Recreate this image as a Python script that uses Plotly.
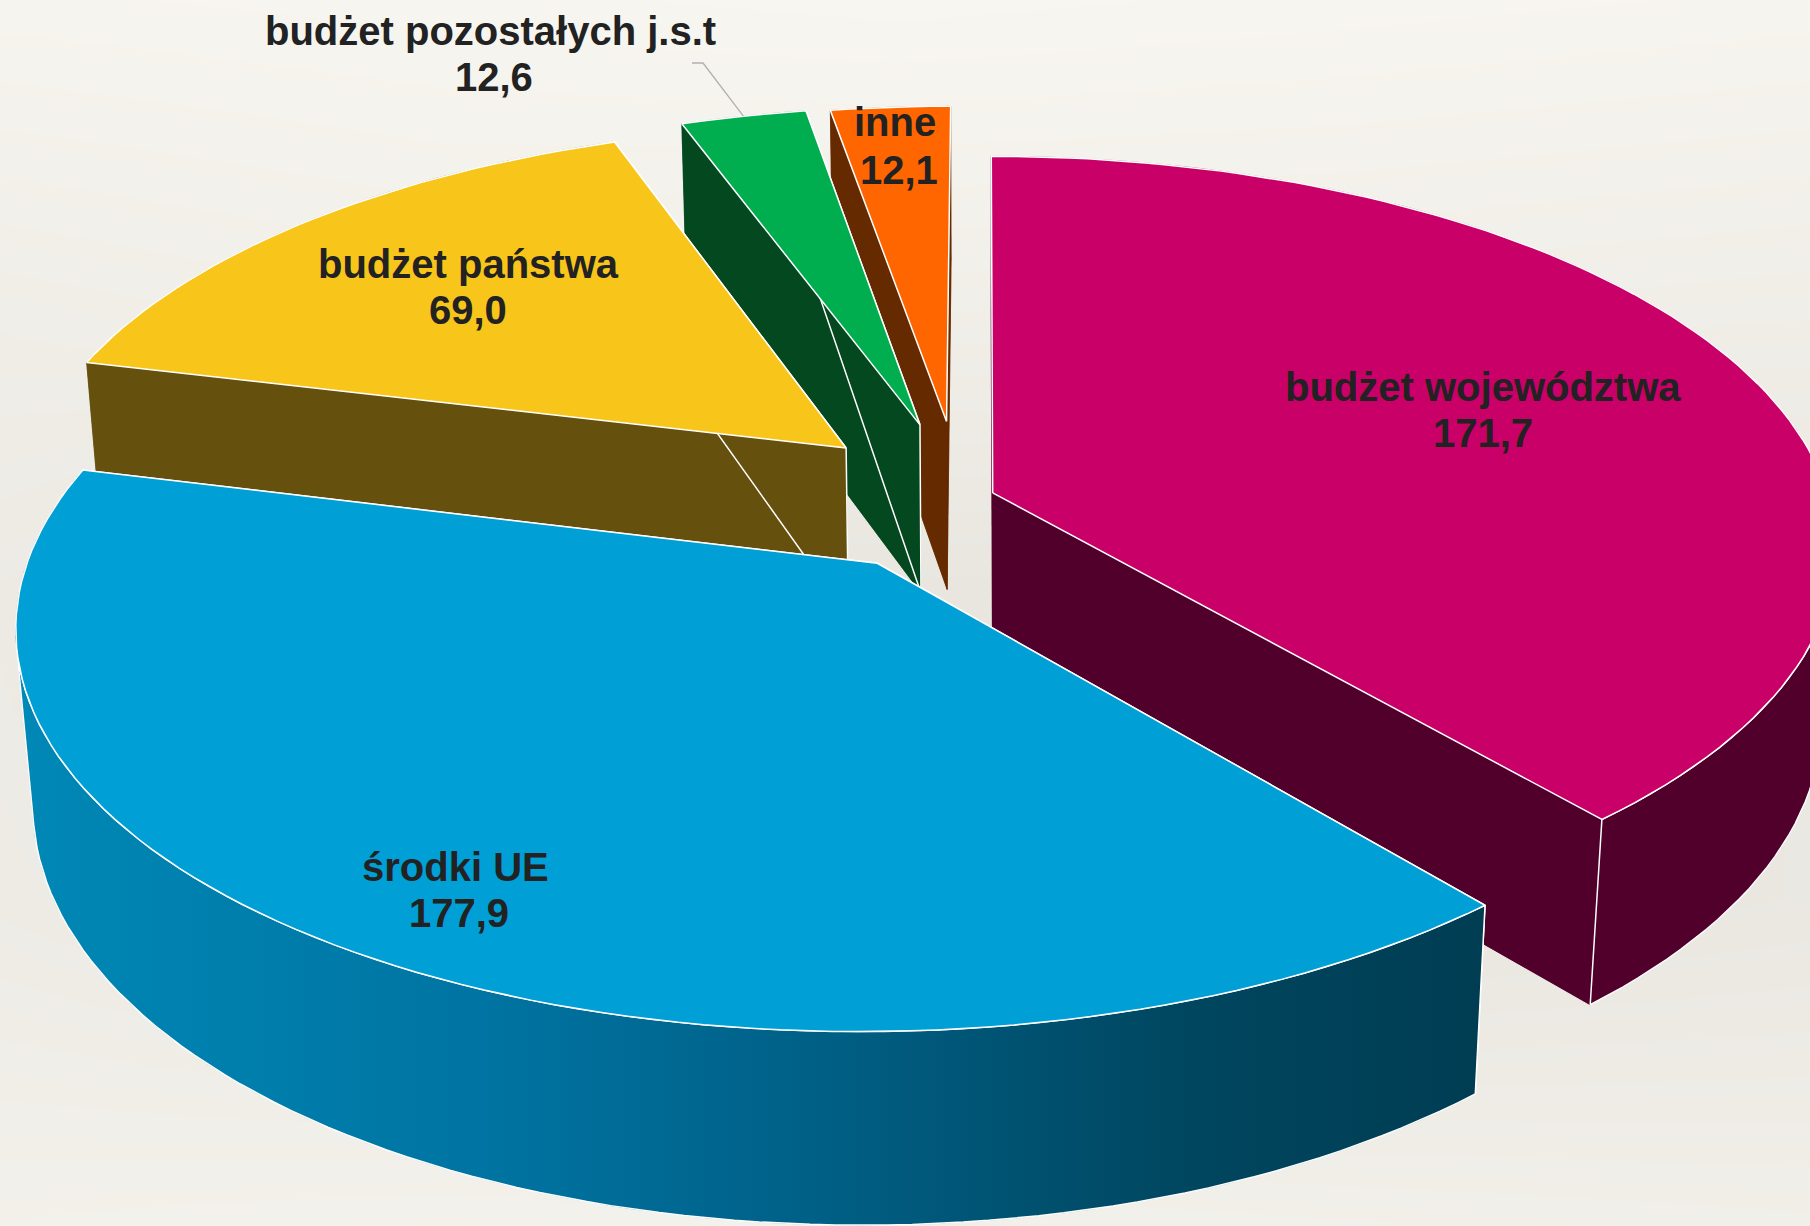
import numpy as np
import plotly.graph_objects as go

# ---------- data ----------
categories = ["budżet województwa", "środki UE", "budżet państwa", "budżet pozostałych j.s.t", "inne"]
values = [171.7, 177.9, 69.0, 12.6, 12.1]
top_colors = ["#C80068", "#009FD6", "#F8C61B", "#00AE50", "#FF6600"]
side_colors = ["#51002B", "#0072A0", "#65500E", "#04481F", "#662A00"]
explode_x = [0.0138, -0.1214, -0.1645, -0.0752, -0.0426]
explode_y = [0.0, -0.1786, 0.119, 0.1817, 0.1912]
radius = [1.0, 0.993, 0.99, 0.99, 0.982]
label_x = [1483, 455, 468, 490, 895]
label_y = [387, 867, 264, 31, 122]
value_x = [1483, 459, 468, 494, 899]
value_y = [433, 913, 310, 77, 170]
blue_rim_stops = [[0.0, "#0088B6"], [0.33, "#0073A1"], [0.55, "#005F85"], [0.80, "#00465F"], [1.0, "#003D53"]]
bg_x = [0, 450, 900, 1350, 1810]
bg_y = [0, 300, 600, 900, 1226]
bg_z = [[0.90, 0.95, 1.00, 0.95, 0.90],
        [0.55, 0.65, 0.60, 0.60, 0.55],
        [0.35, 0.10, 0.10, 0.10, 0.20],
        [0.40, 0.20, 0.10, 0.10, 0.20],
        [0.70, 0.75, 0.70, 0.65, 0.60]]

# ---------- camera that turns the pie into page coordinates ----------
S = 1810 / 1568
CX, CY = 850 * S, 427 * S
F = 4563 * S
D = 6.31
SIN_T, COS_T = 0.46, 0.888
THICK = 0.235
STEP = np.radians(1.5)


def project(x, y, z):
    x, y, z = np.asarray(x, float), np.asarray(y, float), np.asarray(z, float)
    depth = D + y * COS_T - z * SIN_T
    return CX + F * x / depth, CY - F * (y * SIN_T + z * COS_T) / depth


def area(u, v):
    return 0.5 * np.sum(u * np.roll(v, -1) - np.roll(u, -1) * v)


fig = go.Figure()
fig.add_trace(go.Heatmap(x=bg_x, y=bg_y, z=bg_z, zmin=0, zmax=1, zsmooth="best", showscale=False,
                         hoverinfo="skip",
                         colorscale=[[0, "#E7E4DE"], [1, "#F8F6F0"]]))


def poly(u, v, fill, edge=True, gradient=None):
    u = list(u) + [u[0]]
    v = list(v) + [v[0]]
    kw = dict(x=u, y=v, mode="lines", fill="toself", hoverinfo="skip", showlegend=False,
              line=dict(color="#FFFFFF" if edge else fill, width=1.5 if edge else 0.5))
    if gradient is not None:
        kw["fillgradient"] = gradient
    else:
        kw["fillcolor"] = fill
    fig.add_trace(go.Scatter(**kw))


total = sum(values)
edges = np.concatenate([[0], np.cumsum(values)]) / total * 2 * np.pi
order = [4, 3, 2, 0, 1]          # back to front

for i in order:
    a0, a1 = edges[i], edges[i + 1]
    n = max(int((a1 - a0) / STEP), 2)
    ang = np.linspace(a0, a1, n + 1)
    ox, oy = explode_x[i], explode_y[i]
    r = radius[i]
    rx, ry = ox + r * np.sin(ang), oy + r * np.cos(ang)
    px = np.concatenate([[ox], rx])
    py = np.concatenate([[oy], ry])
    side = side_colors[i]

    # bottom and hidden faces fill the silhouette first
    bu, bv = project(px, py, np.full(px.shape, -THICK))
    poly(bu, bv, side, edge=False)

    tu, tv = project(rx, ry, np.zeros(rx.shape))
    du, dv = project(rx, ry, np.full(rx.shape, -THICK))
    visible = []
    for k in range(n):
        qu = np.array([tu[k], tu[k + 1], du[k + 1], du[k]])
        qv = np.array([tv[k], tv[k + 1], dv[k + 1], dv[k]])
        visible.append(area(qu, qv) < 0)
        if not visible[-1]:
            poly(qu, qv, side, edge=False)

    # flat cut faces, the one away from the camera first
    faces = []
    for idx in (0, -1):
        fx = np.array([ox, rx[idx], rx[idx], ox])
        fy = np.array([oy, ry[idx], ry[idx], oy])
        fz = np.array([0, 0, -THICK, -THICK])
        fu, fv = project(fx, fy, fz)
        sign = area(fu, fv) * (1 if idx == 0 else -1)
        faces.append((sign > 0, fu, fv))
    faces.sort(key=lambda f: f[0])
    for vis, fu, fv in faces:
        poly(fu, fv, side, edge=bool(vis))

    # visible part of the round outer wall
    ids = [k for k, ok in enumerate(visible) if ok]
    if ids:
        k0, k1 = ids[0], ids[-1] + 1
        wu = np.concatenate([tu[k0:k1 + 1], du[k0:k1 + 1][::-1]])
        wv = np.concatenate([tv[k0:k1 + 1], dv[k0:k1 + 1][::-1]])
        grad = None
        if i == 1:
            grad = dict(type="horizontal", colorscale=blue_rim_stops,
                        start=float(wu.min()), stop=float(wu.max()))
        poly(wu, wv, side, edge=True, gradient=grad)

    # top face
    pu, pv = project(px, py, np.zeros(px.shape))
    poly(pu, pv, top_colors[i])

# leader line of the small green slice
mid = (edges[3] + edges[4]) / 2
lu, lv = project(explode_x[3] + radius[3] * np.sin(mid), explode_y[3] + radius[3] * np.cos(mid), 0.0)
fig.add_trace(go.Scatter(x=[692, 703, float(lu)], y=[63, 63, float(lv)], mode="lines",
                         line=dict(color="#B0B0B0", width=1.3), hoverinfo="skip", showlegend=False))

font = dict(family="Liberation Sans, Arial, sans-serif", size=40, color="#222222", weight="bold")
for name, val, x1, y1, x2, y2 in zip(categories, values, label_x, label_y, value_x, value_y):
    fig.add_annotation(x=x1, y=y1, text=f"<b>{name}</b>", showarrow=False, font=font, xanchor="center", yanchor="middle")
    fig.add_annotation(x=x2, y=y2, text=f"<b>{val:.1f}</b>".replace(".", ","), showarrow=False, font=font, xanchor="center", yanchor="middle")

fig.update_layout(width=1810, height=1226, margin=dict(l=0, r=0, t=0, b=0), showlegend=False,
                  paper_bgcolor="#EFECE6", plot_bgcolor="#EFECE6",
                  xaxis=dict(range=[0, 1810], visible=False, fixedrange=True),
                  yaxis=dict(range=[1226, 0], visible=False, fixedrange=True))
fig.write_html("out.html", post_script="document.body.style.margin='0';", config={"displayModeBar": False})
